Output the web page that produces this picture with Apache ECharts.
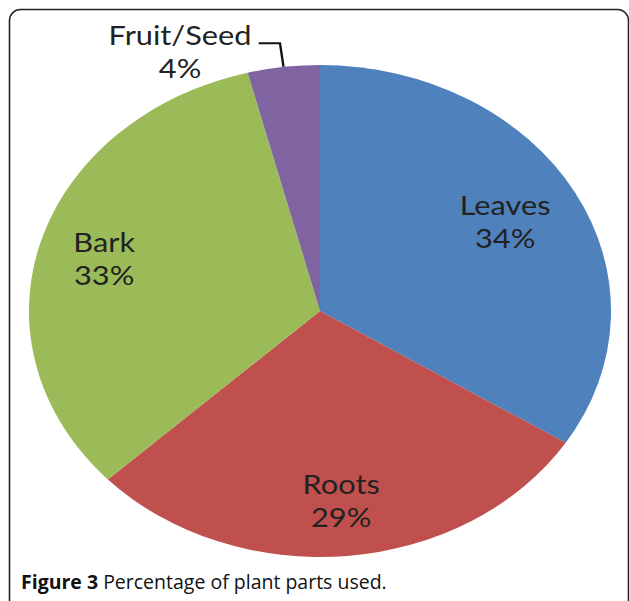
<!DOCTYPE html>
<html>
<head>
<meta charset="utf-8">
<script src="https://cdn.jsdelivr.net/npm/echarts@6/dist/echarts.min.js"></script>
<style>
  html, body { margin: 0; padding: 0; background: #fff; overflow: hidden; }
  #frame, #pie { position: absolute; left: 0; top: 0; width: 629px; height: 601px; }
  /* the source picture is stretched sideways, so the pie layer is too */
  #pie { transform: scaleX(1.183); transform-origin: 320px 311px; }
</style>
</head>
<body>
<div id="frame"></div>
<div id="pie"></div>
<script>
const categories = ['Leaves', 'Roots', 'Bark', 'Fruit/Seed'];
const shares = [34, 29, 33, 4];
const captionBold = 'Figure 3';
const captionText = 'Percentage of plant parts used';

const pieData = categories.map((name, i) => ({ name: name, value: shares[i] }));

// frame + caption (not stretched)
const frameChart = echarts.init(document.getElementById('frame'), null, { renderer: 'svg' });
frameChart.setOption({
  animation: false,
  title: {
    text: '{b|' + captionBold + '} ' + captionText + '.',
    left: 21,
    top: 571,
    padding: 0,
    textStyle: {
      fontFamily: 'Open Sans',
      fontSize: 19.5,
      fontWeight: 'normal',
      color: '#111',
      rich: {
        b: { fontFamily: 'Open Sans', fontSize: 19.5, fontWeight: 'bold', color: '#111' }
      }
    }
  },
  graphic: [{
    type: 'rect',
    shape: { x: 9.5, y: 9.5, width: 619, height: 640, r: 11 },
    style: { fill: 'none', stroke: '#222', lineWidth: 1.6 },
    silent: true
  }]
});

// pie layer
const pieChart = echarts.init(document.getElementById('pie'), null, { renderer: 'svg' });
pieChart.setOption({
  animation: false,
  color: ['#4F81BD', '#C0504D', '#9BBB59', '#8064A2'],
  series: [
    {
      type: 'pie',
      center: [320, 311],
      radius: 246,
      startAngle: 90,
      clockwise: true,
      avoidLabelOverlap: false,
      silent: true,
      data: pieData.map((d) => ({
        name: d.name,
        value: d.value,
        label: { show: d.value < 10 },
        labelLine: { show: d.value < 10 }
      })),
      label: {
        position: 'outside',
        formatter: '{t|{b}}\n{t|{c}%}',
        padding: [17, 0, 0, 0],
        distanceToLabelLine: 6,
        rich: {
          t: { fontFamily: 'Lato', fontSize: 26, lineHeight: 33, color: '#222', align: 'center' }
        }
      },
      labelLine: {
        length: 24,
        length2: 18,
        lineStyle: { color: '#111', width: 2 }
      }
    },
    {
      // transparent ring that carries the inside labels
      type: 'pie',
      center: [320, 311],
      radius: [128, 246],
      startAngle: 90,
      clockwise: true,
      silent: true,
      itemStyle: { color: 'rgba(0,0,0,0)' },
      data: pieData.map((d, i) => ({
        name: d.name,
        value: d.value,
        label: { show: d.value >= 10, offset: i === 0 ? [-10, 2] : [0, 0] }
      })),
      label: {
        position: 'inside',
        formatter: '{b}\n{c}%',
        fontFamily: 'Lato',
        fontSize: 26,
        lineHeight: 33,
        color: '#222'
      },
      labelLine: { show: false }
    }
  ]
});
</script>
</body>
</html>
